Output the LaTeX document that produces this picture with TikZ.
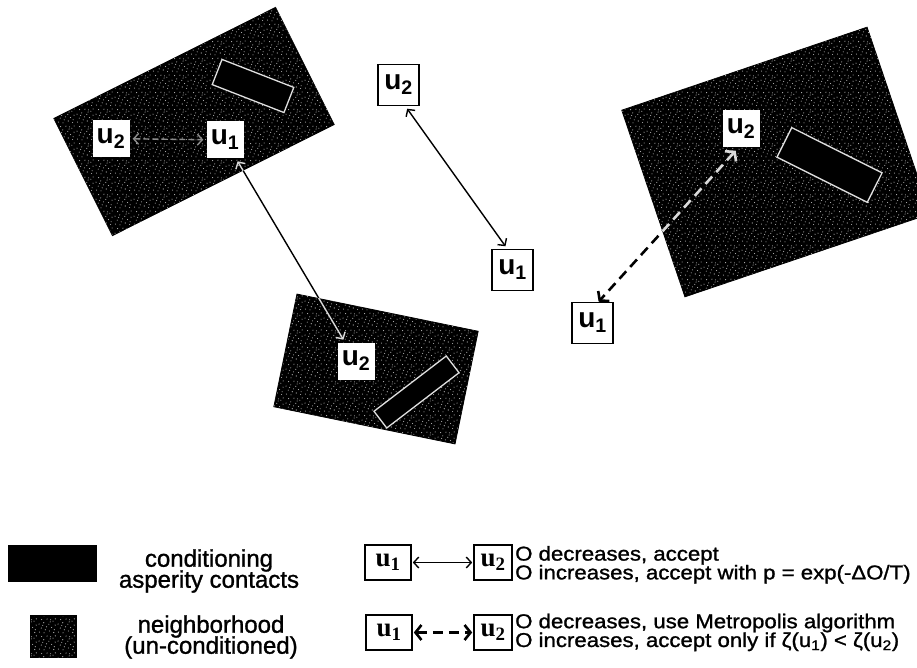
\documentclass[tikz,border=0pt]{standalone}
\usepackage{fontspec}
\setmainfont{Liberation Sans}
\newfontfamily\legendserif{Liberation Serif}
\newfontfamily\legendsans[FakeBold=1.2]{Liberation Sans}
\newfontfamily\rulefont[FakeStretch=1.11,FakeBold=1.2]{Liberation Sans}
\usetikzlibrary{arrows.meta,patterns.meta}

% sparse white speckle used on the neighborhood areas
\pgfdeclarepattern{
  name=speckle,
  type=uncolored,
  bottom left={\pgfpointorigin},
  top right={\pgfpoint{19pt}{17pt}},
  tile size={\pgfpoint{19pt}{17pt}},
  code={
    \foreach \sx/\sy in {1.5/2.0, 6.3/1.2, 11.8/3.1, 16.4/1.6, 3.4/6.2,
                         8.9/7.5, 14.2/6.8, 17.9/9.3, 1.1/10.4, 6.0/11.7,
                         11.3/10.2, 15.6/13.4, 3.8/15.1, 9.4/15.6, 13.1/14.9,
                         18.0/15.8, 7.6/4.4, 12.7/12.6, 4.9/9.0, 16.9/4.5}{
      \pgfpathcircle{\pgfpoint{\sx pt}{\sy pt}}{0.6pt}
      \pgfusepath{fill}
    }
  }
}

\newcommand\ulab[1]{u\textsubscript{#1}}

\tikzset{
  hood/.style={draw=black, line width=0.8pt, fill=black, inner sep=0pt,
    postaction={pattern=speckle, pattern color=white!72!black}},
  contact/.style={draw=white!88!black, line width=1.3pt, fill=black, inner sep=0pt},
  ulabel/.style={font=\fontsize{28}{28}\selectfont\bfseries, inner sep=0pt},
  ubox/.style={ulabel, fill=white, minimum width=37pt, minimum height=37pt},
  uframe/.style={ulabel, fill=white, draw=black, line width=1.6pt,
    minimum width=41pt, minimum height=41pt},
  lbox/.style={font={\legendserif\bfseries\fontsize{27}{27}\selectfont},
    fill=white, draw=black, line width=1.6pt, inner sep=0pt, minimum height=35pt},
  link/.style={line width=1.4pt,
    arrows={Straight Barb[length=5pt,width=11pt]-Straight Barb[length=5pt,width=11pt]},
    shorten <=3pt, shorten >=3pt},
  trial/.style={line width=2.6pt, dash pattern=on 10pt off 6pt,
    arrows={Straight Barb[length=6pt,width=15pt]-Straight Barb[length=6pt,width=15pt]}},
  inside/.style={draw=white!85!black},
  legtxt/.style={font={\legendsans\fontsize{24}{21}\selectfont\lineskiplimit=-50pt},
    align=center, inner sep=0pt},
  ruletxt/.style={font={\rulefont\fontsize{20}{18.8}\selectfont\lineskiplimit=-50pt},
    align=left, inner sep=0pt, anchor=west},
}

\begin{document}
\begin{tikzpicture}[x=1pt, y=-1pt]
\useasboundingbox (0,0) rectangle (917,668);
\clip (0,0) rectangle (917,668);

% neighborhoods with their conditioning contacts
\node[hood, minimum width=248, minimum height=131, rotate=26.6] (nA) at (194,121.5) {};
\node[contact, minimum width=77, minimum height=27, rotate=-21.3] (cA) at (253,86) {};
\node[hood, minimum width=185, minimum height=115, rotate=-11.6] (nB) at (376,369) {};
\node[contact, minimum width=91, minimum height=21, rotate=37.4] (cB) at (416.5,392) {};
\node[hood, minimum width=259, minimum height=197, rotate=18.7] (nC) at (776,162) {};
\node[contact, minimum width=101, minimum height=33, rotate=-26.6] (cC) at (829.5,165) {};

% nodes inside neighborhoods
\node[ubox] (a2) at (111,138.5) {\ulab{2}};
\node[ubox] (a1) at (225,140) {\ulab{1}};
\node[ubox] (b2) at (356,361) {\ulab{2}};
\node[ubox] (c2) at (741,129) {\ulab{2}};

% free nodes
\node[uframe] (m2) at (398.5,85) {\ulab{2}};
\node[uframe] (m1) at (512.5,270) {\ulab{1}};
\node[uframe] (d1) at (592.5,323) {\ulab{1}};

% connectors
\draw[link, draw=white!55!black, dash pattern=on 6pt off 3pt] (a2) -- (a1);
\draw[link] (a1) -- (b2);
\draw[link] (m2.-72) -- (m1.104);
\draw[trial, shorten <=4pt] (c2.-98) -- (d1.74);

% parts of the connectors lying on a neighborhood are drawn light
\begin{scope}
  \clip (nA.north west) -- (nA.north east) -- (nA.south east) -- (nA.south west) -- cycle;
  \draw[link, inside] (a1) -- (b2);
\end{scope}
\begin{scope}
  \clip (nB.north west) -- (nB.north east) -- (nB.south east) -- (nB.south west) -- cycle;
  \draw[link, inside] (a1) -- (b2);
\end{scope}
\begin{scope}
  \clip (nC.north west) -- (nC.north east) -- (nC.south east) -- (nC.south west) -- cycle;
  \draw[trial, inside, shorten <=4pt] (c2.-98) -- (d1.74);
\end{scope}

% legend: areas
\node[fill=black, inner sep=0pt, minimum width=89, minimum height=37] (kC) at (52.5,563.5) {};
\node[hood, line width=2.5pt, minimum width=45, minimum height=41] (kN) at (53.5,636.5) {};
\node[legtxt] (tC) at (209,571) {conditioning\\asperity contacts};
\node[legtxt] (tN) at (211,637) {neighborhood\\(un-conditioned)};

% legend: moves
\node[lbox, minimum width=46] (r1a) at (388,562.5) {u\textsubscript{1}};
\node[lbox, minimum width=38] (r1b) at (493,562.5) {u\textsubscript{2}};
\node[lbox, minimum width=46] (r2a) at (389,632.5) {u\textsubscript{1}};
\node[lbox, minimum width=38] (r2b) at (493,632.5) {u\textsubscript{2}};
\draw[link, line width=1.4pt, shorten <=1pt, shorten >=1pt] (r1a) -- (r1b);
\draw[trial, shorten <=1pt, shorten >=1pt] (r2a) -- (r2b);

\node[ruletxt] (s1) at (515,564.8) {O decreases, accept\\O increases, accept with p = exp(-ΔO/T)};
\node[ruletxt] (s2) at (515,632.4) {O decreases, use Metropolis algorithm\\O increases, accept only if ζ(u\textsubscript{1}) < ζ(u\textsubscript{2})};
\end{tikzpicture}
\end{document}
